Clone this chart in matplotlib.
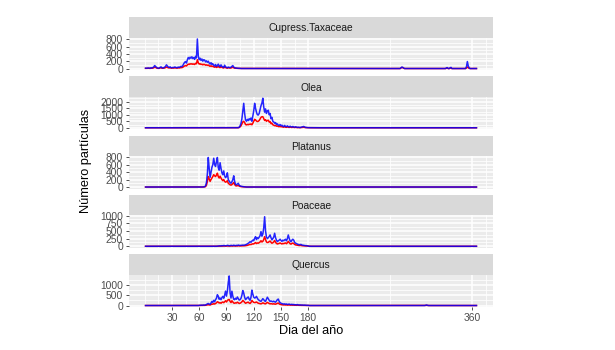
import numpy as np
import matplotlib
matplotlib.use("Agg")
import matplotlib.pyplot as plt

plt.rcParams['font.family'] = ['Liberation Sans', 'DejaVu Sans']

# ---------------- data ----------------
species = ["Cupress.Taxaceae", "Olea", "Platanus", "Poaceae", "Quercus"]
days = np.arange(1, 366)

# Cupress.Taxaceae, days 1..105
cup_start = 1
cup_blue = [10, 8, 12, 15, 10, 8, 20, 15, 25, 40,
            80, 60, 30, 15, 10, 12, 30, 45, 20, 15,
            20, 35, 60, 100, 70, 40, 30, 45, 25, 20,
            30, 25, 40, 35, 20, 25, 40, 30, 45, 60,
            50, 80, 130, 170, 190, 150, 240, 300, 260, 310,
            280, 320, 270, 300, 250, 330, 290, 805, 350, 240,
            280, 220, 260, 200, 240, 230, 180, 210, 170, 200,
            150, 120, 160, 110, 130, 90, 70, 110, 60, 80,
            120, 70, 50, 100, 60, 40, 30, 90, 50, 30,
            20, 40, 30, 25, 35, 60, 80, 40, 20, 15,
            10, 8, 5, 5, 5]
cup_red = [5, 4, 6, 8, 5, 4, 10, 8, 12, 20,
           35, 30, 15, 8, 5, 6, 15, 20, 10, 8,
           10, 15, 25, 40, 30, 20, 15, 20, 12, 10,
           15, 12, 18, 15, 10, 12, 18, 15, 20, 25,
           25, 35, 55, 70, 80, 70, 100, 120, 110, 130,
           120, 130, 115, 125, 110, 140, 130, 240, 160, 120,
           130, 110, 120, 100, 115, 110, 90, 100, 85, 95,
           75, 60, 75, 55, 65, 45, 35, 55, 30, 40,
           55, 35, 25, 45, 30, 20, 15, 40, 25, 15,
           10, 20, 15, 12, 15, 25, 35, 20, 10, 8,
           5, 4, 3, 3, 3]
cup_extra_days = [282, 283, 284, 285, 332, 333, 336, 337, 354, 355, 356, 357]
cup_extra_blue = [20, 40, 30, 10, 20, 25, 20, 30, 50, 190, 70, 15]
cup_extra_red = [15, 30, 20, 8, 8, 10, 8, 12, 15, 40, 20, 6]

# Olea, days 100..190
olea_start = 100
olea_blue = [0, 0, 5, 10, 40, 150, 340, 700, 1300, 1880,
             1100, 600, 500, 650, 550, 700, 600, 750, 500, 900,
             1300, 1880, 1500, 1200, 1000, 980, 1100, 1400, 1700, 1900,
             2270, 1600, 1200, 1450, 1100, 1300, 1350, 1000, 1100, 700,
             800, 500, 450, 350, 400, 250, 300, 200, 180, 250,
             150, 200, 120, 100, 180, 100, 80, 150, 90, 60,
             120, 80, 50, 100, 60, 40, 80, 50, 30, 40,
             30, 20, 40, 60, 80, 100, 60, 30, 20, 15,
             10, 8, 6, 5, 4, 3, 2, 2, 1, 1, 0]
olea_red = [0, 0, 2, 5, 20, 70, 150, 300, 450, 500,
            400, 250, 220, 260, 230, 280, 250, 300, 230, 350,
            500, 650, 600, 520, 480, 500, 560, 680, 800, 850,
            850, 700, 560, 620, 500, 560, 580, 450, 480, 320,
            350, 230, 200, 160, 180, 120, 140, 95, 85, 110,
            70, 90, 55, 45, 80, 45, 35, 65, 40, 28,
            50, 35, 22, 45, 28, 18, 35, 22, 14, 18,
            13, 9, 18, 25, 35, 40, 25, 13, 9, 7,
            5, 4, 3, 3, 2, 2, 1, 1, 0, 0, 0]

# Platanus, days 65..110
plat_start = 65
plat_blue = [5, 10, 30, 120, 350, 790, 500, 260, 400, 525,
             600, 770, 600, 550, 680, 790, 520, 450, 650, 500,
             380, 330, 430, 300, 250, 280, 380, 200, 160, 120,
             100, 140, 200, 300, 150, 70, 60, 80, 100, 50,
             30, 20, 15, 10, 8, 5]
plat_red = [2, 4, 12, 50, 150, 280, 220, 150, 200, 240,
            280, 330, 300, 280, 320, 370, 280, 240, 290, 240,
            200, 170, 200, 150, 130, 140, 170, 100, 80, 60,
            50, 65, 90, 120, 70, 35, 30, 35, 40, 25,
            15, 10, 8, 5, 4, 2]

# Poaceae, days 80..180
poa_start = 80
poa_blue = [5, 8, 10, 15, 10, 20, 15, 25, 20, 15,
            20, 30, 25, 15, 20, 30, 25, 20, 35, 25,
            20, 30, 25, 40, 30, 25, 35, 30, 40, 35,
            40, 50, 60, 80, 100, 120, 150, 130, 170, 200,
            180, 260, 315, 220, 280, 250, 300, 350, 480, 330,
            400, 600, 965, 500, 300, 250, 280, 320, 370, 280,
            210, 250, 300, 425, 280, 200, 150, 180, 200, 230,
            190, 160, 200, 180, 210, 230, 180, 250, 370, 260,
            180, 150, 200, 230, 200, 130, 100, 90, 70, 60,
            50, 55, 60, 40, 35, 30, 25, 20, 20, 15, 10]
poa_red = [2, 3, 4, 6, 4, 8, 6, 10, 8, 6,
           8, 12, 10, 6, 8, 12, 10, 8, 14, 10,
           8, 12, 10, 16, 12, 10, 14, 12, 16, 14,
           16, 20, 25, 30, 40, 50, 60, 55, 70, 80,
           75, 100, 120, 90, 110, 100, 120, 140, 180, 140,
           160, 220, 315, 220, 140, 120, 130, 150, 170, 130,
           100, 115, 140, 190, 130, 95, 75, 85, 95, 110,
           90, 75, 95, 85, 100, 110, 85, 115, 160, 120,
           85, 70, 95, 105, 90, 60, 45, 40, 32, 28,
           24, 25, 28, 18, 16, 14, 12, 10, 9, 7, 5]

# Quercus, days 60..180
que_start = 60
que_blue = [10, 15, 10, 20, 15, 25, 20, 30, 50, 80,
            100, 70, 60, 120, 200, 150, 250, 180, 280, 350,
            520, 450, 300, 360, 280, 380, 440, 350, 500, 690,
            450, 700, 1100, 1420, 600, 360, 690, 450, 300, 280,
            350, 300, 410, 330, 260, 280, 350, 500, 720, 600,
            400, 280, 330, 380, 410, 300, 250, 400, 740, 550,
            400, 360, 380, 440, 350, 280, 250, 220, 200, 260,
            330, 280, 220, 200, 300, 400, 320, 250, 200, 220,
            200, 180, 210, 180, 160, 220, 280, 310, 200, 140,
            110, 90, 80, 70, 80, 60, 75, 50, 60, 70,
            50, 45, 60, 40, 50, 35, 40, 30, 45, 30,
            25, 30, 20, 25, 20, 15, 20, 15, 10, 12, 10]
que_red = [4, 6, 4, 8, 6, 10, 8, 12, 20, 30,
           40, 28, 25, 45, 75, 60, 90, 70, 100, 130,
           180, 160, 120, 140, 110, 150, 170, 140, 180, 230,
           170, 240, 280, 290, 200, 140, 230, 170, 120, 110,
           130, 120, 160, 130, 100, 110, 140, 180, 240, 210,
           150, 110, 130, 150, 160, 120, 100, 150, 240, 190,
           150, 140, 150, 170, 140, 110, 100, 90, 80, 100,
           130, 110, 90, 80, 120, 150, 120, 100, 80, 90,
           80, 70, 85, 70, 65, 85, 110, 120, 80, 55,
           45, 35, 32, 28, 32, 24, 30, 20, 24, 28,
           20, 18, 24, 16, 20, 14, 16, 12, 18, 12,
           10, 12, 8, 10, 8, 6, 8, 6, 4, 5, 4]
que_extra_days = [309, 310, 311]
que_extra_blue = [10, 25, 10]
que_extra_red = [5, 10, 5]

y_breaks = [[0, 200, 400, 600, 800],
            [0, 500, 1000, 1500, 2000],
            [0, 200, 400, 600, 800],
            [0, 250, 500, 750, 1000],
            [0, 500, 1000]]
x_breaks = [30, 60, 90, 120, 150, 180, 360]


def place(start, vals, extra_days=None, extra_vals=None):
    arr = np.zeros(len(days))
    arr[start - 1:start - 1 + len(vals)] = vals
    if extra_days is not None:
        for d, v in zip(extra_days, extra_vals):
            arr[d - 1] = v
    return arr


blue_series = [place(cup_start, cup_blue, cup_extra_days, cup_extra_blue),
               place(olea_start, olea_blue),
               place(plat_start, plat_blue),
               place(poa_start, poa_blue),
               place(que_start, que_blue, que_extra_days, que_extra_blue)]
red_series = [place(cup_start, cup_red, cup_extra_days, cup_extra_red),
              place(olea_start, olea_red),
              place(plat_start, plat_red),
              place(poa_start, poa_red),
              place(que_start, que_red, que_extra_days, que_extra_red)]

# ---------------- layout ----------------
W, H = 615.0, 350.0
fig = plt.figure(figsize=(W / 100, H / 100), dpi=100)
fig.patch.set_facecolor('white')
L, R = 129.0, 493.0
pitch, strip_h, panel_h = 59.25, 20.5, 32.5


def rect(top, bottom):
    return [L / W, 1 - bottom / H, (R - L) / W, (bottom - top) / H]


def minor_of(breaks, lo, hi):
    b = list(breaks)
    d0 = b[1] - b[0]
    d1 = b[-1] - b[-2]
    if lo < b[0]:
        b = [b[0] - d0] + b
    if hi > b[-1]:
        b = b + [b[-1] + d1]
    out = []
    for a, c in zip(b[:-1], b[1:]):
        m = (a + c) / 2
        if lo <= m <= hi:
            out.append(m)
    return out


x_lo = 1 - 0.05 * 364
x_hi = 365 + 0.05 * 364
x_minor = minor_of(x_breaks, x_lo, x_hi) + [0, 375]

tick_font = dict(fontsize=7.4, color='#4D4D4D')

for i, name in enumerate(species):
    st = 17 + pitch * i
    sb = st + strip_h
    pb = sb + panel_h
    # strip
    sax = fig.add_axes(rect(st, sb))
    sax.set_facecolor('#D9D9D9')
    sax.set_xticks([])
    sax.set_yticks([])
    for s in sax.spines.values():
        s.set_visible(False)
    sax.text(0.5, 0.45, name, ha='center', va='center', fontsize=7.4,
             color='#1A1A1A', transform=sax.transAxes)
    # panel
    ax = fig.add_axes(rect(sb, pb))
    ax.set_facecolor('#EBEBEB')
    for s in ax.spines.values():
        s.set_visible(False)
    b = blue_series[i]
    r = red_series[i]
    M = max(b.max(), r.max())
    ylo, yhi = -0.05 * M, 1.05 * M
    ax.set_xlim(x_lo, x_hi)
    ax.set_ylim(ylo, yhi)
    ax.set_xticks(x_breaks)
    ax.set_xticks(x_minor, minor=True)
    ax.set_yticks(y_breaks[i])
    ax.set_yticks(minor_of(y_breaks[i], ylo, yhi), minor=True)
    ax.set_yticklabels([str(v) for v in y_breaks[i]], **tick_font)
    ax.grid(which='major', color='white', lw=1.1)
    ax.grid(which='minor', color='white', lw=0.55)
    ax.set_axisbelow(True)
    ax.tick_params(which='minor', length=0)
    ax.tick_params(axis='y', which='major', length=2.3, width=0.6,
                   color='#333333', pad=2)
    if i == len(species) - 1:
        ax.set_xticklabels([str(v) for v in x_breaks], **tick_font)
        ax.tick_params(axis='x', which='major', length=2.3, width=0.6,
                       color='#333333', pad=2)
    else:
        ax.tick_params(axis='x', which='major', length=0, labelbottom=False)
    ax.plot(days, r, color='#FF0000', lw=1.1, solid_joinstyle='round')
    ax.plot(days, b, color='#0000FF', lw=1.1, alpha=0.85, solid_joinstyle='round')

fig.text((L + R) / 2 / W, 1 - 331 / H, 'Dia del año', ha='center', va='center',
         fontsize=9.2, color='black')
fig.text(86 / W, 1 - 161 / H, 'Número partículas', ha='center', va='center',
         rotation=90, fontsize=9.2, color='black')

fig.savefig('out.png', dpi=100)
